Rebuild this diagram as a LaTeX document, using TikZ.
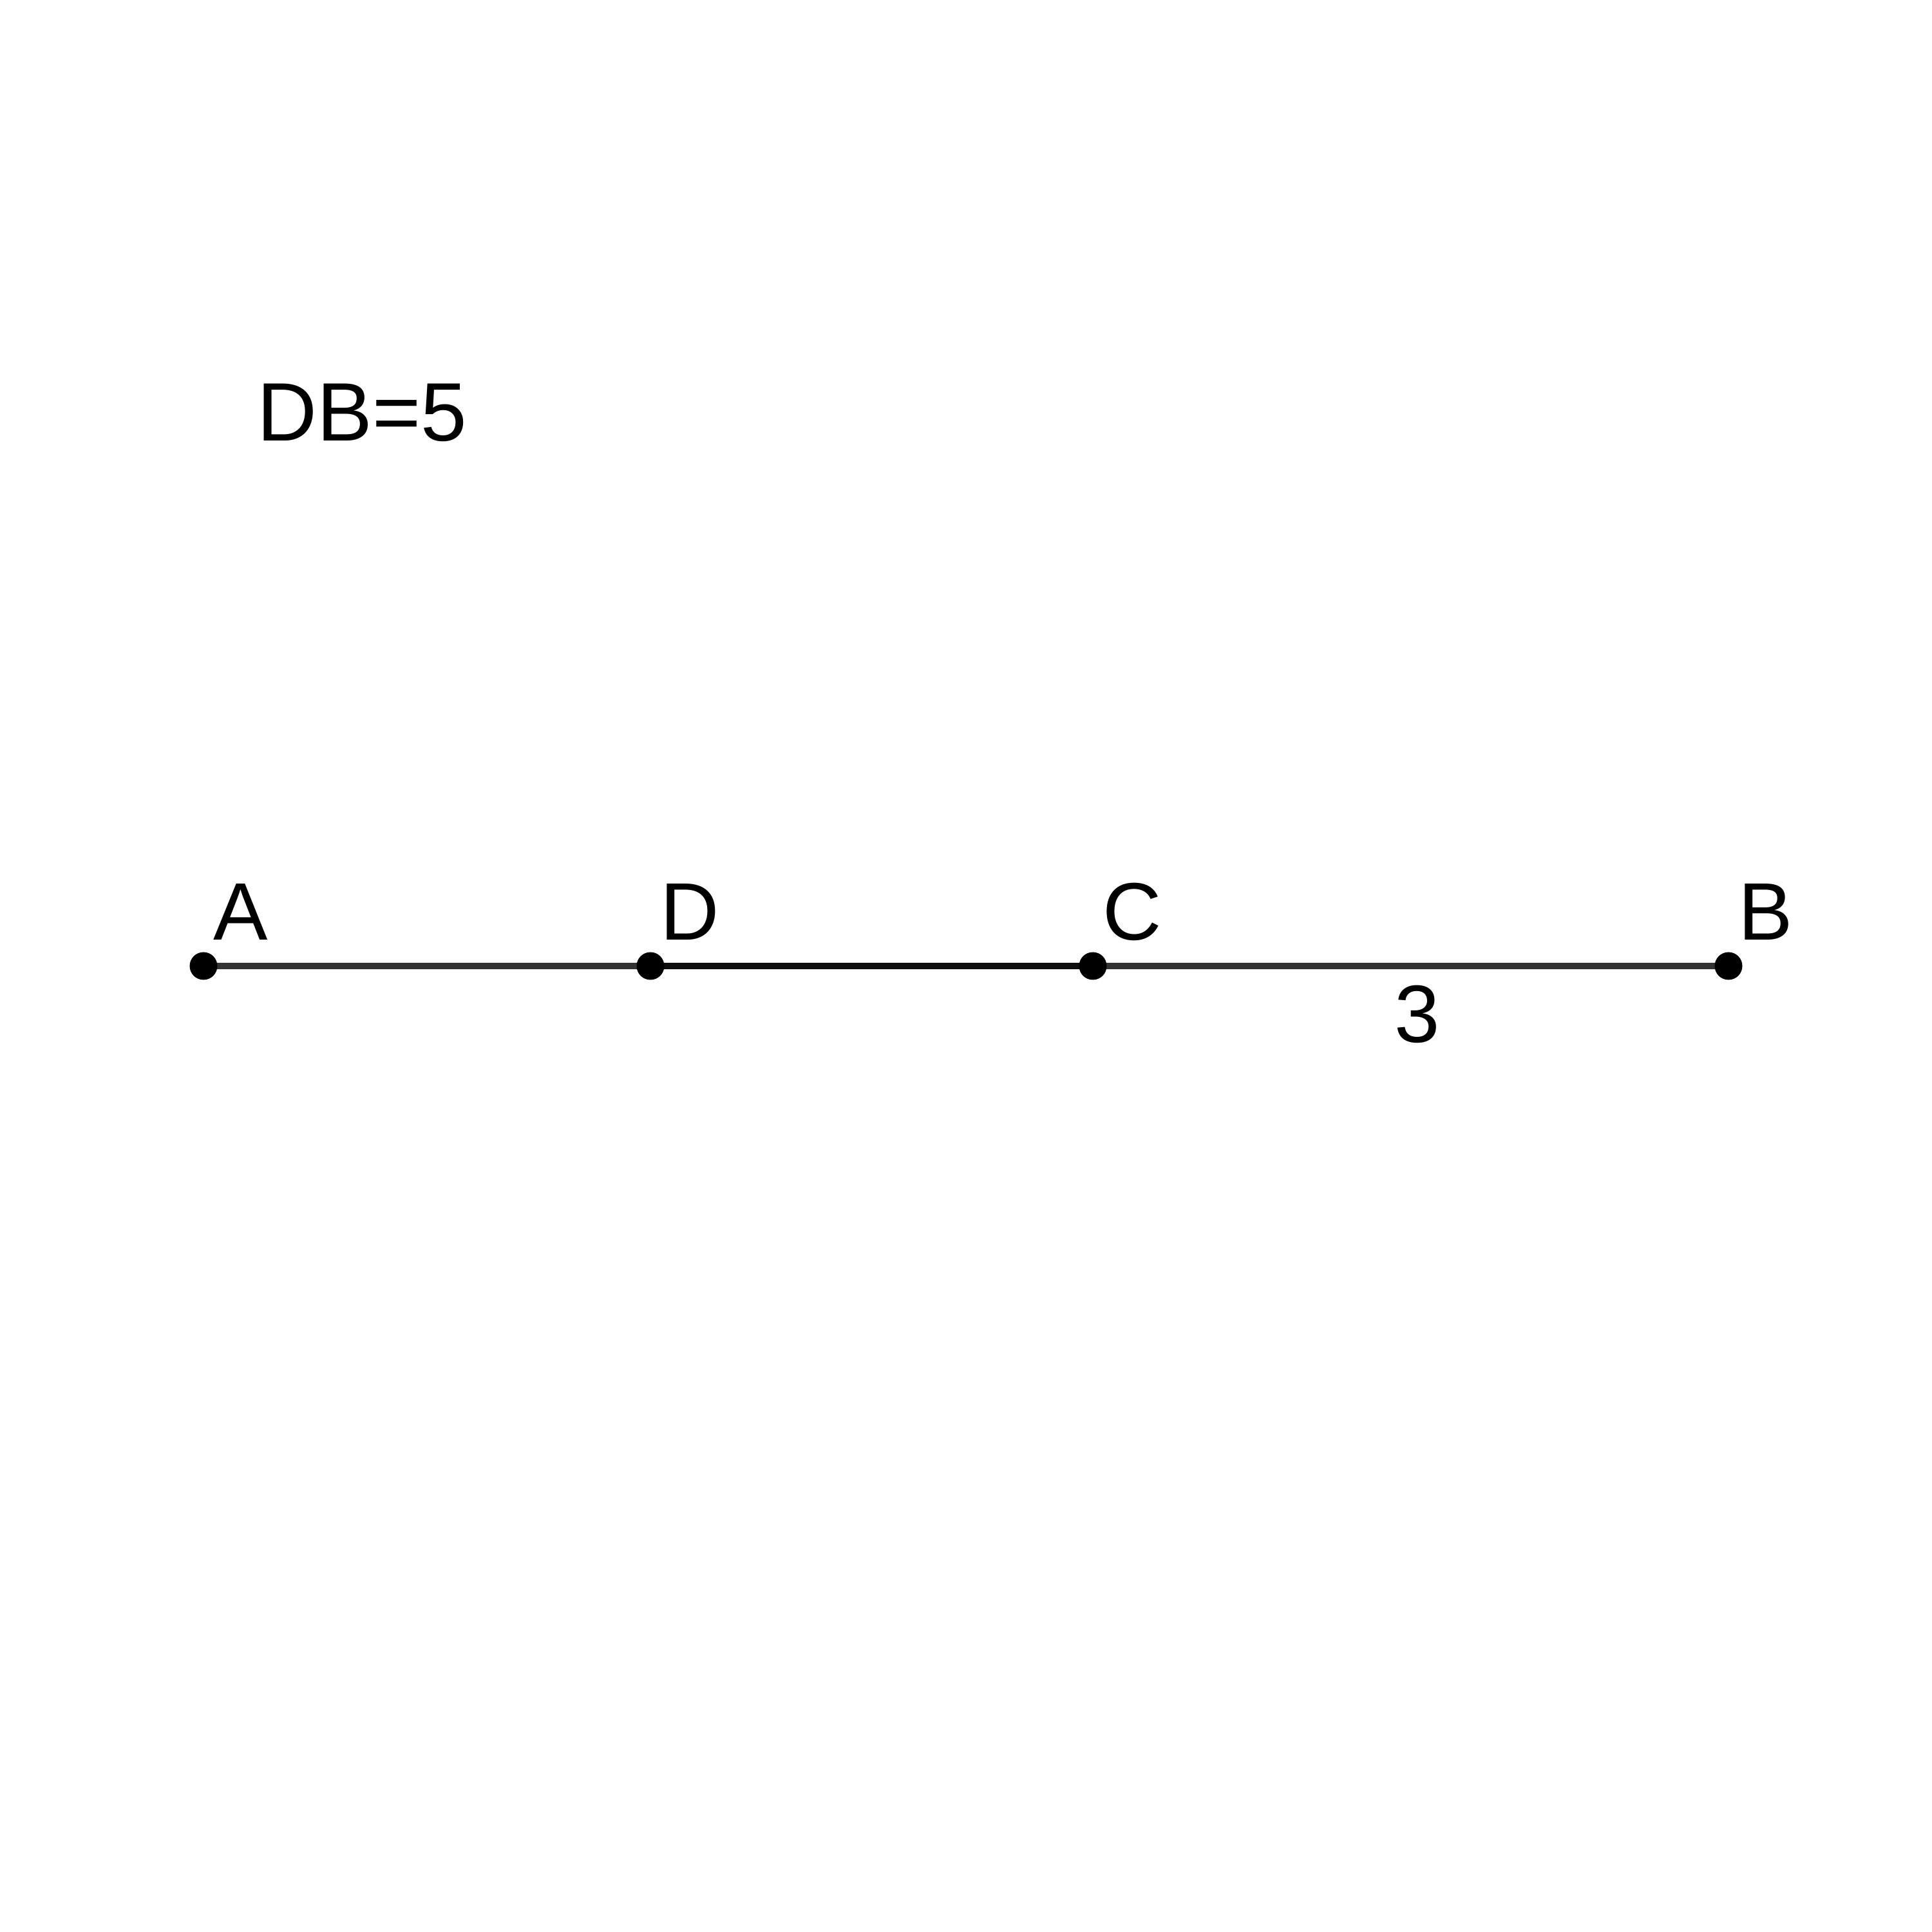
\documentclass[tikz,border=0pt]{standalone}
\usepackage{fontspec}
\setmainfont{Liberation Sans}
\usepackage{tikz}
\usetikzlibrary{calc}
\definecolor{Seg}{HTML}{333333}
\definecolor{SegMid}{HTML}{0D0D0D}

\begin{document}
\begin{tikzpicture}[
    dot/.style={circle,fill=black,inner sep=0pt,minimum size=0.215cm},
    seg/.style={Seg,line width=1.45pt},
    lbl/.style={inner sep=0pt,text=black,font=\fontsize{18}{22}\selectfont}
  ]
    \fill[white] (0,0) rectangle (15,15);
    \useasboundingbox (0,0) rectangle (15,15);

    % points on the line
    \coordinate (A) at (1.58,7.5);
    \coordinate (D) at (5.05,7.5);
    \coordinate (C) at (8.485,7.5);
    \coordinate (B) at (13.42,7.5);

    \draw[seg] (A) -- (D);
    \draw[seg,SegMid] (D) -- (C);
    \draw[seg] (C) -- (B) node[lbl,pos=0.51,anchor=base,yshift=-0.595cm] (lenCB) {3};

    \node[dot] (dA) at (A) {};
    \node[dot] (dD) at (D) {};
    \node[dot] (dC) at (C) {};
    \node[dot] (dB) at (B) {};

    \node[lbl,anchor=base west] (labA) at ($(A)+(0.07,0.2)$) {A};
    \node[lbl,anchor=base west] (labD) at ($(D)+(0.07,0.2)$) {D};
    \node[lbl,anchor=base west] (labC) at ($(C)+(0.07,0.2)$) {C};
    \node[lbl,anchor=base west] (labB) at ($(B)+(0.07,0.2)$) {B};

    \node[lbl,anchor=base west,font=\fontsize{18.3}{22}\selectfont] (given) at (1.99,11.575) {DB=5};
  \end{tikzpicture}
\end{document}
